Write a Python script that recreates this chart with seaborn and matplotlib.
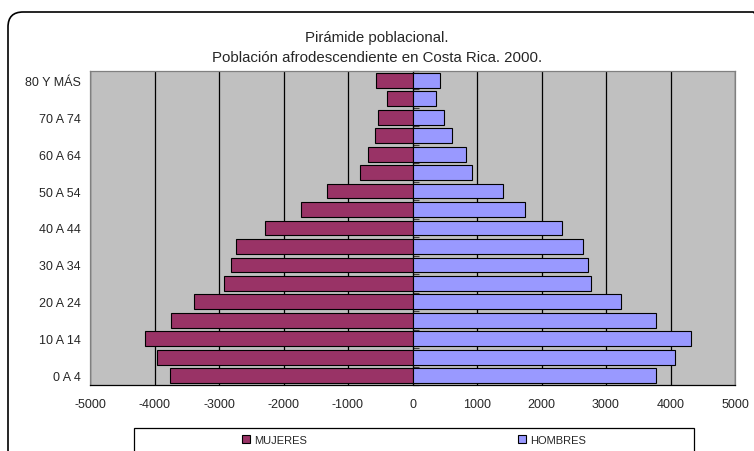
import matplotlib
matplotlib.use("Agg")
import matplotlib.pyplot as plt
import seaborn as sns
import pandas as pd
from matplotlib.patches import FancyBboxPatch, Rectangle, Patch

# Age groups, youngest first
age_groups = ["0 A 4", "5 A 9", "10 A 14", "15 A 19", "20 A 24", "25 A 29",
              "30 A 34", "35 A 39", "40 A 44", "45 A 49", "50 A 54", "55 A 59",
              "60 A 64", "65 A 69", "70 A 74", "75 A 79", "80 Y MÁS"]
mujeres = [3761, 3967, 4142, 3740, 3395, 2915, 2811, 2740, 2280, 1734,
           1325, 820, 697, 588, 531, 402, 567]
hombres = [3769, 4064, 4323, 3769, 3235, 2763, 2727, 2649, 2323, 1742,
           1410, 917, 824, 607, 493, 364, 420]
x_ticks = [-5000, -4000, -3000, -2000, -1000, 0, 1000, 2000, 3000, 4000, 5000]
series_names = ["MUJERES", "HOMBRES"]
colors = {"MUJERES": "#993366", "HOMBRES": "#9999FF"}

df = pd.concat([
    pd.DataFrame({"grupo": age_groups, "sexo": "MUJERES", "valor": [-v for v in mujeres]}),
    pd.DataFrame({"grupo": age_groups, "sexo": "HOMBRES", "valor": hombres}),
])

sns.set_style("white")
plt.rcParams["font.family"] = ["Liberation Sans", "DejaVu Sans"]

fig = plt.figure(figsize=(7.54, 4.52), dpi=100)
ax = fig.add_axes([90 / 754, 1 - 386 / 452, 645 / 754, 314 / 452])
ax.set_facecolor("#C0C0C0")

order = age_groups[::-1]
sns.barplot(data=df, y="grupo", x="valor", hue="sexo", order=order,
            hue_order=series_names, palette=colors, saturation=1, dodge=False,
            width=0.8, edgecolor="black", linewidth=0.8, legend=False, ax=ax, zorder=3)

ax.set_xlim(-5000, 5000)
ax.set_ylim(len(order) - 0.5, -0.5)
ax.set_xticks(x_ticks)
ax.set_xticklabels([str(t) for t in x_ticks], fontsize=9)
ax.xaxis.grid(True, color="black", linewidth=0.9)
ax.yaxis.grid(False)
ax.set_axisbelow(True)

label_idx = list(range(0, len(age_groups), 2))
ax.set_yticks([len(age_groups) - 1 - i for i in label_idx])
ax.set_yticklabels([age_groups[i] for i in label_idx], fontsize=9)
ax.set_xlabel("")
ax.set_ylabel("")

ax.tick_params(axis="x", direction="out", length=4, width=0.9, color="black", pad=5.5)
ax.tick_params(axis="y", length=0, pad=6.5)

for side in ["top", "right", "left"]:
    ax.spines[side].set_color("#808080")
    ax.spines[side].set_linewidth(0.9)
ax.spines["bottom"].set_color("black")
ax.spines["bottom"].set_linewidth(0.9)

# Category axis along zero with boundary ticks
zero_axis = ax.secondary_yaxis(0.5)
zero_axis.set_yticks([i + 0.5 for i in range(-1, len(order))])
zero_axis.set_yticklabels([])
zero_axis.tick_params(direction="out", length=4, width=0.9, color="#404040")
zero_axis.spines["left"].set_color("black")
zero_axis.spines["left"].set_linewidth(1.0)

# Title
fig.text(0.5, 1 - 38 / 452, "Pirámide poblacional.", ha="center", va="center", fontsize=10.8)
fig.text(0.5, 1 - 58 / 452, "Población afrodescendiente en Costa Rica. 2000.",
         ha="center", va="center", fontsize=10.8)

# Legend box
fig.patches.append(Rectangle((134, 452 - 470), 560, 470 - 429, transform=None,
                             facecolor="white", edgecolor="black", linewidth=0.9))
handles = [Patch(facecolor=colors[n], edgecolor="black", linewidth=0.8) for n in series_names]
fig.legend(handles, series_names, loc="center", bbox_to_anchor=(414 / 754, 1 - 441 / 452),
           ncol=2, frameon=False, fontsize=8, handlelength=0.68, handleheight=0.68,
           handletextpad=0.4, columnspacing=19, borderpad=0)

# Rounded chart frame
fig.patches.append(FancyBboxPatch((8, 452 - 466), 760, 466 - 13, transform=None,
                                  boxstyle="round,pad=0,rounding_size=15",
                                  facecolor="none", edgecolor="black", linewidth=1.2))

fig.savefig("out.png", dpi=100)
